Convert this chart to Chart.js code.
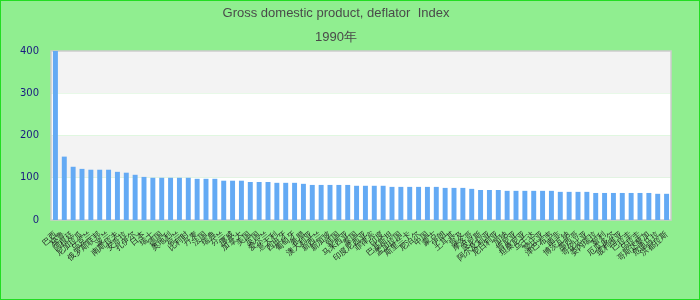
<!DOCTYPE html>
<html>
<head>
<meta charset="utf-8">
<script src="https://cdn.jsdelivr.net/npm/chart.js@4.4.0/dist/chart.umd.min.js"></script>
<style>
body { margin: 0; }
#wrap {
    position: absolute; left: 0; top: 0;
    width: 700px; height: 300px;
    box-sizing: border-box;
    border: 1px solid #22dd22;
    background: #90ee90;
}
</style>
</head>
<body>
<div id="wrap"><canvas id="gdpChart" width="698" height="298"></canvas></div>
<script>
const countries = [
    '巴西', '秘鲁', '阿根廷', '尼加拉瓜', '乌克兰', '俄罗斯联邦', '波兰', '南斯拉夫', '安哥拉', '扎伊尔',
    '日本', '瑞士', '德国', '奥地利', '荷兰', '比利时', '丹麦', '法国', '瑞典', '芬兰',
    '挪威', '加拿大', '美国', '英国', '爱尔兰', '意大利', '西班牙', '葡萄牙', '希腊', '澳大利亚',
    '新西兰', '新加坡', '韩国', '马来西亚', '泰国', '印度尼西亚', '菲律宾', '印度', '巴基斯坦', '孟加拉国',
    '斯里兰卡', '尼泊尔', '中国', '蒙古', '伊朗', '土耳其', '埃及', '摩洛哥', '突尼斯', '阿尔及利亚',
    '尼日利亚', '加纳', '肯尼亚', '坦桑尼亚', '乌干达', '赞比亚', '津巴布韦', '南非', '博茨瓦纳', '墨西哥',
    '哥伦比亚', '委内瑞拉', '智利', '厄瓜多尔', '玻利维亚', '巴拉圭', '乌拉圭', '哥斯达黎加', '危地马拉', '洪都拉斯'
];

const deflator = [
    400, 150, 126, 121, 119, 119, 119, 114, 112, 107,
    102, 100, 100, 100, 100, 100, 97.5, 97.5, 97.5, 93,
    93, 93, 90, 90, 90, 88, 88, 88, 85.6, 83,
    83, 83, 83, 83, 81, 81, 81, 81, 78.4, 78.4,
    78.4, 78.4, 78.4, 78.4, 76, 76, 76, 73.7, 71, 71,
    71, 69, 69, 69, 69, 69, 69, 66.6, 66.6, 66.6,
    66.6, 64, 64, 64, 64, 64, 64, 64, 62, 62
];

const yTicks = [0, 100, 200, 300, 400];
const titleLines = ['Gross domestic product, deflator  Index', '1990年'];

// alternating horizontal bands + light border round the plot
const bandsPlugin = {
    id: 'bands',
    beforeDraw(chart) {
        const { ctx, chartArea: a, scales: { y } } = chart;
        ctx.save();
        for (let i = 0; i < yTicks.length - 1; i++) {
            const top = y.getPixelForValue(yTicks[i + 1]);
            const bottom = y.getPixelForValue(yTicks[i]);
            ctx.fillStyle = i % 2 === 0 ? '#ffffff' : '#f3f3f3';
            ctx.fillRect(a.left, top, a.right - a.left, bottom - top);
        }
        ctx.strokeStyle = '#cccccc';
        ctx.lineWidth = 1.5;
        ctx.strokeRect(a.left, a.top, a.right - a.left, a.bottom - a.top);
        ctx.restore();
    }
};

const ctx = document.getElementById('gdpChart').getContext('2d');
new Chart(ctx, {
    type: 'bar',
    data: {
        labels: countries,
        datasets: [{
            data: deflator,
            backgroundColor: '#64aaf4',
            categoryPercentage: 0.8,
            barPercentage: 0.7
        }]
    },
    options: {
        responsive: false,
        animation: false,
        layout: { padding: { left: 0, right: 28, top: 0, bottom: 0 } },
        plugins: {
            legend: { display: false },
            tooltip: { enabled: false },
            title: {
                display: true,
                text: titleLines,
                color: '#4a4a4a',
                font: { family: 'Liberation Sans', size: 13, weight: 'normal', lineHeight: 1.846 },
                padding: { top: 0, bottom: 2 }
            }
        },
        scales: {
            x: {
                grid: { display: false },
                border: { display: false },
                ticks: {
                    autoSkip: false,
                    minRotation: 40,
                    maxRotation: 40,
                    color: '#222222',
                    font: { family: 'DejaVu Sans', size: 8 },
                    padding: 2
                },
                afterFit(axis) { axis.height = 79; }
            },
            y: {
                min: 0,
                max: 400,
                grid: { display: false, drawTicks: false },
                border: { display: false },
                afterBuildTicks(axis) { axis.ticks = yTicks.map(v => ({ value: v })); },
                ticks: {
                    color: '#1a1a80',
                    font: { family: 'DejaVu Sans', size: 10 },
                    padding: 12
                },
                afterFit(axis) { axis.width = 50; }
            }
        }
    },
    plugins: [bandsPlugin]
});
</script>
</body>
</html>
